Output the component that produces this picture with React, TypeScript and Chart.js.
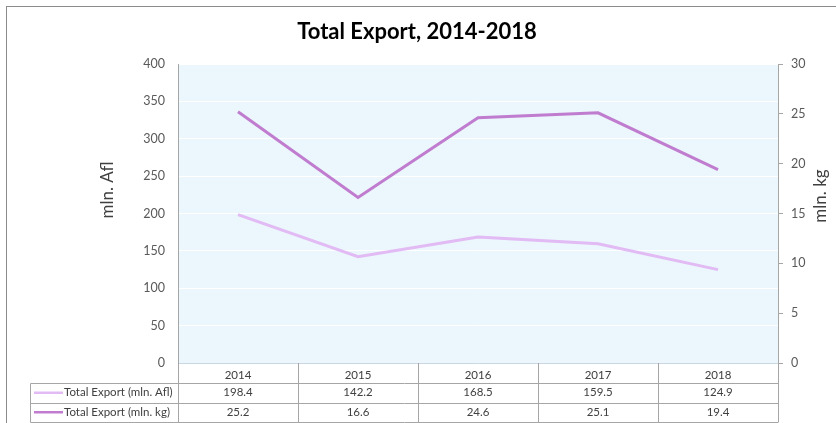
import React, { useEffect, useRef } from "react";
import { Chart, registerables } from "chart.js";

Chart.register(...registerables);

const chartTitle = "Total Export, 2014-2018";
const years = ["2014", "2015", "2016", "2017", "2018"];
const exportAfl = [198.4, 142.2, 168.5, 159.5, 124.9];
const exportKg = [25.2, 16.6, 24.6, 25.1, 19.4];
const aflLabel = "Total Export (mln. Afl)";
const kgLabel = "Total Export (mln. kg)";
const leftAxisTitle = "mln. Afl";
const rightAxisTitle = "mln. kg";

const FONT = "Lato, 'Open Sans', sans-serif";
const AFL_COLOR = "#E2BAF4";
const KG_COLOR = "#C07CCF";
const GRID_GRAY = "#A6A6A6";
const TEXT = "#404040";

const decorPlugin = {
  id: "decor",
  beforeDraw(chart: any) {
    const { ctx, chartArea } = chart;
    ctx.save();
    ctx.fillStyle = "#ffffff";
    ctx.fillRect(0, 0, chart.width, chart.height);
    ctx.fillStyle = "#EBF6FD";
    ctx.fillRect(chartArea.left, chartArea.top, chartArea.right - chartArea.left, chartArea.bottom - chartArea.top);
    // outer border
    ctx.strokeStyle = "#8C8C8C";
    ctx.lineWidth = 1;
    ctx.strokeRect(6.5, 6.5, chart.width + 20, chart.height + 20);
    ctx.restore();
  },
  afterDraw(chart: any) {
    const { ctx, chartArea } = chart;
    const xs = chart.scales.x;
    ctx.save();
    // title
    ctx.fillStyle = "#000000";
    ctx.font = `bold 22px Lato, sans-serif`;
    ctx.textAlign = "center";
    ctx.textBaseline = "middle";
    ctx.fillText(chartTitle, 417, 32);

    // axis titles
    ctx.font = `17px ${FONT}`;
    ctx.fillStyle = TEXT;
    ctx.save();
    ctx.translate(108, 190);
    ctx.rotate(-Math.PI / 2);
    ctx.fillText(leftAxisTitle, 0, 0);
    ctx.restore();
    ctx.save();
    ctx.translate(821, 196);
    ctx.rotate(-Math.PI / 2);
    ctx.fillText(rightAxisTitle, 0, 0);
    ctx.restore();

    // data table
    const step = xs.getPixelForValue(1) - xs.getPixelForValue(0);
    const bounds: number[] = [];
    for (let i = 0; i <= years.length; i++) bounds.push(xs.getPixelForValue(0) - step / 2 + i * step);
    const top = chartArea.bottom;
    const r1 = top + 20;
    const r2 = r1 + 19.5;
    const r3 = r2 + 19.5;
    const legLeft = 30;
    ctx.strokeStyle = GRID_GRAY;
    ctx.lineWidth = 1;
    ctx.beginPath();
    for (const b of bounds) {
      const bx = Math.round(b) + 0.5;
      ctx.moveTo(bx, top);
      ctx.lineTo(bx, r3);
    }
    for (const y of [r1, r2, r3]) {
      ctx.moveTo(legLeft + 0.5, Math.round(y) + 0.5);
      ctx.lineTo(Math.round(bounds[bounds.length - 1]) + 0.5, Math.round(y) + 0.5);
    }
    ctx.moveTo(legLeft + 0.5, Math.round(r1) + 0.5);
    ctx.lineTo(legLeft + 0.5, Math.round(r3) + 0.5);
    ctx.stroke();

    const rows = [
      { label: aflLabel, color: AFL_COLOR, data: chart.data.datasets[0].data, y: (r1 + r2) / 2 },
      { label: kgLabel, color: KG_COLOR, data: chart.data.datasets[1].data, y: (r2 + r3) / 2 },
    ];
    ctx.font = `11.5px ${FONT}`;
    ctx.textBaseline = "middle";
    for (const row of rows) {
      ctx.strokeStyle = row.color;
      ctx.lineWidth = 2.5;
      ctx.beginPath();
      ctx.moveTo(34, row.y);
      ctx.lineTo(63, row.y);
      ctx.stroke();
      ctx.fillStyle = TEXT;
      ctx.textAlign = "left";
      ctx.fillText(row.label, 64, row.y);
      ctx.textAlign = "center";
      row.data.forEach((v: number, i: number) => {
        ctx.fillText(v.toFixed(1), xs.getPixelForValue(i), row.y);
      });
    }
    ctx.restore();
  },
};

export default function App() {
  const ref = useRef<HTMLCanvasElement>(null);
  useEffect(() => {
    if (!ref.current) return;
    const chart = new Chart(ref.current, {
      type: "line",
      data: {
        labels: years,
        datasets: [
          {
            label: aflLabel,
            data: exportAfl,
            borderColor: AFL_COLOR,
            backgroundColor: AFL_COLOR,
            borderWidth: 3,
            pointRadius: 0,
            yAxisID: "y",
            tension: 0,
          },
          {
            label: kgLabel,
            data: exportKg,
            borderColor: KG_COLOR,
            backgroundColor: KG_COLOR,
            borderWidth: 3,
            pointRadius: 0,
            yAxisID: "y1",
            tension: 0,
          },
        ],
      },
      options: {
        responsive: false,
        animation: false,
        layout: { padding: { top: 64, left: 0, right: 0, bottom: 0 } },
        plugins: {
          legend: { display: false },
          title: { display: false },
          tooltip: { enabled: false },
        },
        scales: {
          x: {
            offset: true,
            grid: { display: false, drawTicks: false },
            border: { display: true, color: "#C9D7E3" },
            ticks: { font: { family: FONT, size: 11.5 }, color: TEXT, padding: 5 },
            afterFit(scale: any) {
              scale.height = 60;
            },
          },
          y: {
            position: "left",
            min: 0,
            max: 400,
            ticks: { stepSize: 50, font: { family: FONT, size: 12.5 }, color: "#595959", padding: 13 },
            grid: { color: "#ffffff", lineWidth: 1, drawTicks: false },
            border: { color: GRID_GRAY, width: 1 },
            afterFit(scale: any) {
              scale.width = 178;
            },
          },
          y1: {
            position: "right",
            min: 0,
            max: 30,
            ticks: { stepSize: 5, font: { family: FONT, size: 12.5 }, color: "#595959", padding: 8 },
            grid: { drawOnChartArea: false, drawTicks: true, tickLength: 5, color: GRID_GRAY },
            border: { color: GRID_GRAY, width: 1 },
            afterFit(scale: any) {
              scale.width = 58;
            },
          },
        },
      },
      plugins: [decorPlugin],
    });
    return () => chart.destroy();
  }, []);
  return (
    <div style={{ position: "absolute", left: 0, top: 0, width: 836, height: 423 }}>
      <canvas ref={ref} width={836} height={423} style={{ display: "block" }} />
    </div>
  );
}
